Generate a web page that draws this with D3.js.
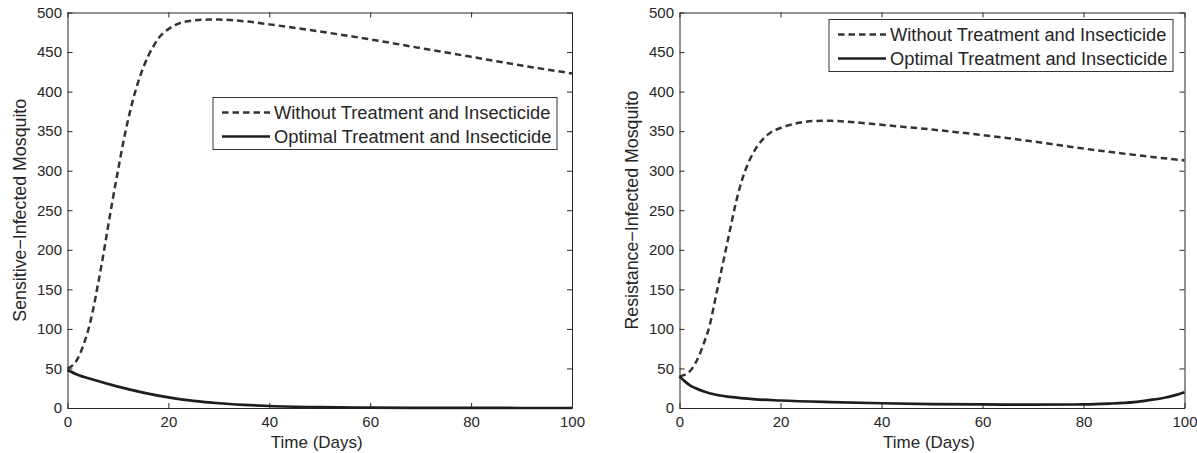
<!DOCTYPE html>
<html>
<head>
<meta charset="utf-8">
<script src="https://cdn.jsdelivr.net/npm/d3@7"></script>
<style>
  body { margin: 0; background: #fff; }
  svg { display: block; font-family: "Liberation Sans", Arial, Helvetica, sans-serif; }
  .axis text { font-size: 15px; fill: #262626; }
  .axis path, .axis line { stroke: #262626; stroke-width: 1; }
  .lab { font-size: 17px; fill: #262626; }
  .ylab { font-size: 17.8px; }
  .leg text { font-size: 18.3px; fill: #262626; }
</style>
</head>
<body>
<svg id="chart" width="1197" height="453"></svg>
<script>
// Sensitive vs resistance infected mosquito, with / without control.
const xTicks = [0, 20, 40, 60, 80, 100];
const yTicks = [0, 50, 100, 150, 200, 250, 300, 350, 400, 450, 500];
const legendLabels = ["Without Treatment and Insecticide", "Optimal Treatment and Insecticide"];

// left panel: sensitive-infected
const sensNoCtrlT = [0, 1, 2, 3, 4, 5, 6, 7, 8, 9, 10, 11, 12, 13, 14, 15, 16, 17, 18, 19, 20, 22, 25, 28, 30, 35, 40, 50, 60, 70, 80, 90, 100];
const sensNoCtrl  = [50, 54, 62, 77, 96, 122, 155, 190, 228, 265, 300, 334, 364, 390, 412, 430, 445, 457, 467, 474, 479, 486, 490, 491, 491, 489, 485, 476, 466, 455, 444, 433, 423];
const sensOptT = [0, 2, 5, 10, 15, 20, 25, 30, 35, 40, 50, 60, 80, 100];
const sensOpt  = [48, 42, 36, 27, 19.5, 13.5, 9, 6, 4, 2.5, 1, 0.4, 0.1, 0];

// right panel: resistance-infected
const resNoCtrlT = [0, 1, 2, 3, 4, 5, 6, 7, 8, 9, 10, 11, 12, 13, 14, 15, 16, 17, 18, 20, 22, 25, 28, 30, 35, 40, 50, 60, 70, 80, 90, 100];
const resNoCtrl  = [40, 42, 46, 55, 68, 85, 105, 135, 165, 195, 225, 255, 280, 300, 315, 327, 336, 343, 348, 354, 358, 362, 363, 363, 361, 358, 352, 345, 337, 328, 320, 313];
const resOptT = [0, 1, 2, 3, 5, 7, 10, 15, 20, 30, 40, 50, 60, 70, 80, 85, 90, 93, 96, 98, 100];
const resOpt  = [40, 34, 29, 25.5, 20.5, 17, 14, 11, 9.5, 7.5, 6, 5, 4.5, 4.2, 4.5, 5.5, 7.5, 10, 13, 16, 20];

const panels = [
  { x0: 67.5, x1: 572, ylabel: "Sensitive\u2212Infected Mosquito", labX: 20,
    series: [[sensNoCtrlT, sensNoCtrl], [sensOptT, sensOpt]], leg: [213, 97.5] },
  { x0: 679.5, x1: 1184.5, ylabel: "Resistance\u2212Infected Mosquito", labX: 632,
    series: [[resNoCtrlT, resNoCtrl], [resOptT, resOpt]], leg: [829, 19.5] },
];
const yTop = 12.5, yBottom = 408;
const styles = [
  { w: 2.5, dash: "6.5,4", c: "#333" },
  { w: 2.7, dash: null, c: "#1e1e1e" },
];

const svg = d3.select("#chart");

panels.forEach((p) => {
  const x = d3.scaleLinear().domain([0, 100]).range([p.x0, p.x1]);
  const y = d3.scaleLinear().domain([0, 500]).range([yBottom, yTop]);
  const g = svg.append("g");

  g.append("g").attr("class", "axis").attr("transform", `translate(0,${yBottom})`)
    .call(d3.axisBottom(x).tickValues(xTicks).tickSizeInner(-5).tickSizeOuter(0).tickPadding(8.5));
  g.append("g").attr("class", "axis").attr("transform", `translate(${p.x0},0)`)
    .call(d3.axisLeft(y).tickValues(yTicks).tickSizeInner(-5).tickSizeOuter(0).tickPadding(5.5));
  g.append("g").attr("class", "axis").attr("transform", `translate(0,${yTop})`)
    .call(d3.axisTop(x).tickValues(xTicks).tickSizeInner(-5).tickSizeOuter(0).tickFormat(""));
  g.append("g").attr("class", "axis").attr("transform", `translate(${p.x1},0)`)
    .call(d3.axisRight(y).tickValues(yTicks).tickSizeInner(-5).tickSizeOuter(0).tickFormat(""));

  const line = d3.line().x((d) => x(d[0])).y((d) => y(d[1])).curve(d3.curveMonotoneX);
  p.series.forEach(([ts, vs], i) => {
    const s = styles[i];
    g.append("path").datum(ts.map((t, k) => [t, vs[k]]))
      .attr("d", line).attr("fill", "none")
      .attr("stroke", s.c).attr("stroke-width", s.w)
      .attr("stroke-dasharray", s.dash);
  });

  // labels
  g.append("text").attr("class", "lab").attr("text-anchor", "middle")
    .attr("x", (p.x0 + p.x1) / 2 - 3).attr("y", 448).text("Time (Days)");
  g.append("text").attr("class", "lab ylab").attr("text-anchor", "middle")
    .attr("transform", `translate(${p.labX},${(yTop + yBottom) / 2}) rotate(-90)`)
    .attr("dy", "0.35em").text(p.ylabel);

  // legend
  const [lx, ly] = p.leg;
  const leg = g.append("g").attr("class", "leg").attr("transform", `translate(${lx},${ly})`);
  leg.append("rect").attr("width", 344).attr("height", 52)
    .attr("fill", "#fff").attr("stroke", "#333").attr("stroke-width", 1);
  legendLabels.forEach((lab, i) => {
    const yy = 15 + i * 24;
    const s = styles[i];
    leg.append("line").attr("x1", 9).attr("x2", 57).attr("y1", yy).attr("y2", yy)
      .attr("stroke", s.c).attr("stroke-width", s.w).attr("stroke-dasharray", s.dash);
    leg.append("text").attr("x", 61).attr("y", yy).attr("dy", "0.35em").text(lab);
  });
});
</script>
</body>
</html>
